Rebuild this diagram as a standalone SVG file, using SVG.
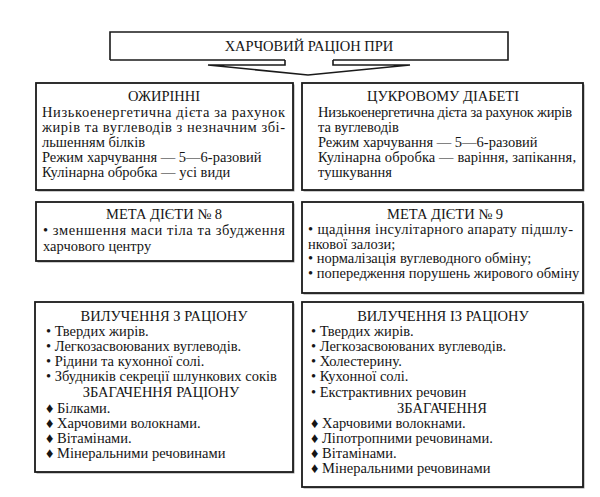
<svg xmlns="http://www.w3.org/2000/svg" width="600" height="497" viewBox="0 0 600 497" font-family="Liberation Serif, Times New Roman, serif">
<style>
.box{fill:#fff;stroke:#1a1a1a;stroke-width:1.8}
.sh{fill:#9a9a9a}
.t{font-size:14.5px;fill:#151515}
.c{text-anchor:middle}
.ln{fill:none;stroke:#1a1a1a;stroke-width:1.6;stroke-linejoin:miter}
</style>
<rect width="600" height="497" fill="#fff"/>
<g id="title">
<rect x="110" y="32" width="398" height="28" fill="#fff"/>
<path class="ln" d="M110,60 L110,32 L508,32 L508,60 L333,60 M285,60 L110,60"/>
<text class="t c" x="309" y="50.5" font-family="Liberation Serif">ХАРЧОВИЙ РАЦІОН ПРИ</text>
</g>
<g id="connectors">
<polyline class="ln" points="285,60 285,65 208,65 308,75 410,65 333,65 333,60"/>
</g>
<g id="obesity" font-family="Liberation Serif">
<rect class="sh" x="37.5" y="84.5" width="257" height="107"/>
<rect class="box" x="36" y="83" width="257" height="107"/>
<text class="t c" x="164" y="101">ОЖИРІННІ</text>
<text class="t" x="42" y="117" textLength="243" lengthAdjust="spacing">Низькоенергетична дієта за рахунок</text>
<text class="t" x="42" y="132" textLength="243" lengthAdjust="spacing">жирів та вуглеводів з незначним збі-</text>
<text class="t" x="42" y="147">льшенням білків</text>
<text class="t" x="42" y="162">Режим харчування — 5—6-разовий</text>
<text class="t" x="42" y="177">Кулінарна обробка — усі види</text>
</g>
<g id="diabetes" font-family="Liberation Serif">
<rect class="sh" x="303.5" y="84.5" width="281" height="107"/>
<rect class="box" x="302" y="83" width="281" height="107"/>
<text class="t c" x="443" y="101">ЦУКРОВОМУ ДІАБЕТІ</text>
<text class="t" x="318" y="117" textLength="254" lengthAdjust="spacing">Низькоенергетична дієта за рахунок жирів</text>
<text class="t" x="318" y="132">та вуглеводів</text>
<text class="t" x="318" y="147">Режим харчування — 5—6-разовий</text>
<text class="t" x="318" y="162" textLength="258" lengthAdjust="spacing">Кулінарна обробка — варіння, запікання,</text>
<text class="t" x="318" y="177">тушкування</text>
</g>
<g id="goal8" font-family="Liberation Serif">
<rect class="sh" x="37.5" y="203.5" width="257" height="59"/>
<rect class="box" x="36" y="202" width="257" height="59"/>
<text class="t c" x="164" y="219">МЕТА ДІЄТИ № 8</text>
<text class="t" x="43" y="235" textLength="242" lengthAdjust="spacing">• зменшення маси тіла та збудження</text>
<text class="t" x="43" y="251">харчового центру</text>
</g>
<g id="goal9" font-family="Liberation Serif">
<rect class="sh" x="303.5" y="203.5" width="281" height="91"/>
<rect class="box" x="302" y="202" width="281" height="91"/>
<text class="t c" x="445" y="219">МЕТА ДІЄТИ № 9</text>
<text class="t" x="308" y="234" textLength="265" lengthAdjust="spacing">• щадіння інсулітарного апарату підшлу-</text>
<text class="t" x="308" y="248.5">нкової залози;</text>
<text class="t" x="308" y="263">• нормалізація вуглеводного обміну;</text>
<text class="t" x="308" y="277.5">• попередження порушень жирового обміну</text>
</g>
<g id="obesity-diet" font-family="Liberation Serif">
<rect class="sh" x="36.5" y="303.5" width="258" height="170"/>
<rect class="box" x="35" y="302" width="258" height="170"/>
<text class="t c" x="164" y="321">ВИЛУЧЕННЯ З РАЦІОНУ</text>
<text class="t" x="46" y="336">• Твердих жирів.</text>
<text class="t" x="46" y="351">• Легкозасвоюваних вуглеводів.</text>
<text class="t" x="46" y="366">• Рідини та кухонної солі.</text>
<text class="t" x="46" y="381">• Збудників секреції шлункових соків</text>
<text class="t c" x="161" y="397">ЗБАГАЧЕННЯ РАЦІОНУ</text>
<text class="t" x="46" y="413">♦ Білками.</text>
<text class="t" x="46" y="428">♦ Харчовими волокнами.</text>
<text class="t" x="46" y="443">♦ Вітамінами.</text>
<text class="t" x="46" y="458">♦ Мінеральними речовинами</text>
</g>
<g id="diabetes-diet" font-family="Liberation Serif">
<rect class="sh" x="303.5" y="303.5" width="281" height="185"/>
<rect class="box" x="302" y="302" width="281" height="185"/>
<text class="t c" x="443" y="321">ВИЛУЧЕННЯ ІЗ РАЦІОНУ</text>
<text class="t" x="311" y="336">• Твердих жирів.</text>
<text class="t" x="311" y="351">• Легкозасвоюваних вуглеводів.</text>
<text class="t" x="311" y="366">• Холестерину.</text>
<text class="t" x="311" y="381">• Кухонної солі.</text>
<text class="t" x="311" y="397">• Екстрактивних речовин</text>
<text class="t c" x="442" y="413">ЗБАГАЧЕННЯ</text>
<text class="t" x="311" y="428">♦ Харчовими волокнами.</text>
<text class="t" x="311" y="443">♦ Ліпотропними речовинами.</text>
<text class="t" x="311" y="458">♦ Вітамінами.</text>
<text class="t" x="311" y="473">♦ Мінеральними речовинами</text>
</g>
</svg>
